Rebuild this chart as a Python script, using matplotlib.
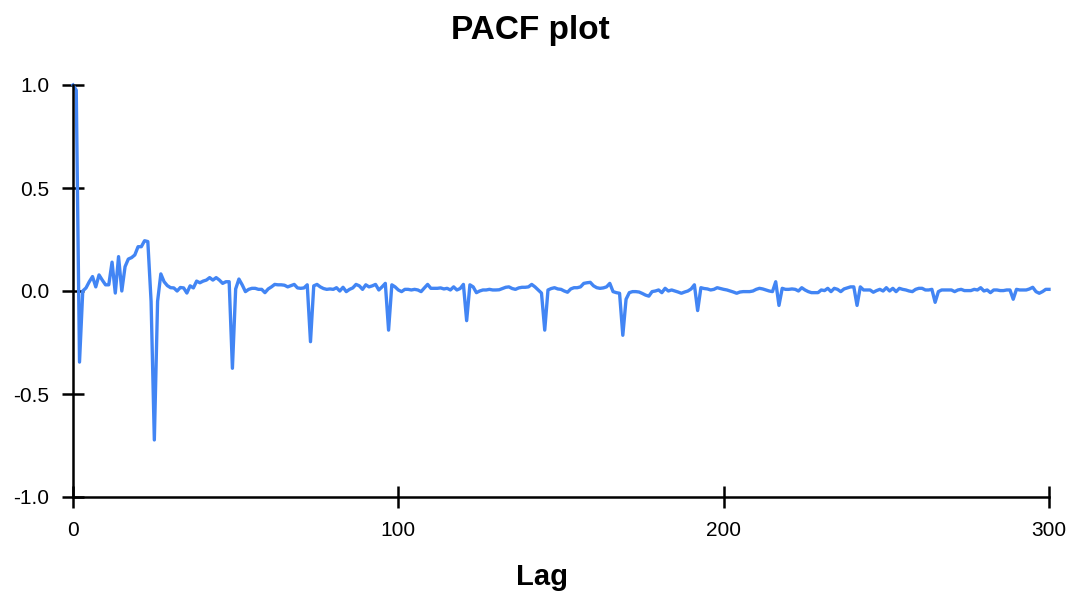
import numpy as np
import matplotlib
matplotlib.use("Agg")
import matplotlib.pyplot as plt

plt.rcParams['font.family'] = ['Liberation Sans', 'DejaVu Sans']

# PACF values for lags 0..300
pacf = [
    1.0, 0.975, -0.345, 0.0, 0.015, 0.045, 0.07, 0.02, 0.078, 0.053,
    0.03, 0.03, 0.14, -0.01, 0.167, 0.0, 0.118, 0.155, 0.162, 0.175,
    0.215, 0.215, 0.244, 0.24, -0.05, -0.723, -0.05, 0.083, 0.045, 0.026,
    0.016, 0.015, 0.0, 0.017, 0.015, -0.01, 0.025, 0.015, 0.048, 0.04,
    0.048, 0.053, 0.065, 0.053, 0.065, 0.053, 0.037, 0.045, 0.045, -0.375,
    0.01, 0.058, 0.03, -0.003, 0.008, 0.013, 0.013, 0.008, 0.008, -0.008,
    0.01, 0.02, 0.032, 0.03, 0.03, 0.028, 0.02, 0.026, 0.032, 0.015,
    0.013, 0.015, 0.03, -0.246, 0.025, 0.032, 0.02, 0.012, 0.008, 0.01,
    0.008, 0.016, 0.0, 0.018, -0.003, 0.008, 0.015, 0.032, 0.025, 0.008,
    0.03, 0.02, 0.025, 0.032, 0.005, 0.02, 0.037, -0.19, 0.03, 0.02,
    0.005, -0.003, 0.008, 0.008, 0.005, 0.008, 0.005, -0.003, 0.015, 0.032,
    0.013, 0.013, 0.013, 0.015, 0.01, 0.013, 0.005, 0.02, 0.005, 0.012,
    0.032, -0.144, 0.03, 0.02, -0.008, 0.0, 0.005, 0.005, 0.008, 0.005,
    0.005, 0.006, 0.012, 0.018, 0.02, 0.012, 0.008, 0.015, 0.018, 0.018,
    0.02, 0.032, 0.02, 0.005, -0.01, -0.19, 0.005, 0.012, 0.016, 0.01,
    0.008, 0.0, -0.006, 0.01, 0.016, 0.016, 0.02, 0.037, 0.04, 0.042,
    0.025, 0.016, 0.013, 0.015, 0.02, 0.037, -0.003, -0.008, -0.011, -0.215,
    -0.04, -0.008, -0.003, -0.003, -0.005, -0.012, -0.02, -0.025, -0.003, 0.0,
    0.005, -0.008, 0.013, 0.0, 0.005, 0.0, -0.005, -0.011, -0.005, 0.0,
    0.01, 0.03, -0.095, 0.016, 0.012, 0.01, 0.005, 0.008, 0.016, 0.012,
    0.008, 0.005, 0.0, -0.005, -0.011, -0.005, -0.003, -0.003, -0.003, 0.0,
    0.008, 0.013, 0.01, 0.005, 0.0, -0.003, 0.045, -0.07, 0.013, 0.008,
    0.008, 0.01, 0.008, 0.0, 0.016, 0.005, -0.003, -0.008, -0.008, -0.008,
    0.005, 0.002, 0.013, -0.003, 0.013, 0.008, -0.003, 0.01, 0.015, 0.02,
    0.02, -0.07, 0.02, 0.005, 0.005, 0.005, -0.006, 0.002, 0.008, 0.0,
    0.016, 0.0, 0.013, -0.003, 0.013, 0.008, 0.005, 0.0, -0.003, 0.008,
    0.013, 0.013, 0.005, 0.005, 0.008, -0.055, -0.003, 0.005, 0.005, 0.005,
    0.005, -0.003, 0.005, 0.008, 0.002, 0.002, 0.002, 0.008, 0.005, 0.016,
    0.0, 0.005, -0.008, 0.005, 0.005, 0.002, 0.002, 0.005, 0.005, -0.04,
    0.008, 0.005, 0.005, 0.005, 0.01, 0.018, -0.003, -0.011, -0.003, 0.008,
    0.008,
]
lags = np.arange(len(pacf))

x_ticks = [0, 100, 200, 300]
y_ticks = [-1.0, -0.5, 0.0, 0.5, 1.0]

fig = plt.figure(figsize=(10.73, 5.97), dpi=100)
ax = fig.add_axes([73 / 1073, 1 - 497 / 597, 976 / 1073, 412 / 597])

ax.plot(lags, pacf, color='#4285F4', linewidth=2.4, clip_on=False)

ax.set_xlim(0, 300)
ax.set_ylim(-1, 1)
ax.set_xticks(x_ticks)
ax.set_yticks(y_ticks)
ax.set_yticklabels([f"{v:.1f}" for v in y_ticks])

for s in ['top', 'right']:
    ax.spines[s].set_visible(False)
for s in ['left', 'bottom']:
    ax.spines[s].set_linewidth(1.8)

ax.tick_params(direction='inout', length=16, width=1.8, labelsize=15, pad=9)

ax.set_xlabel('Lag', fontsize=21, fontweight='bold')
ax.xaxis.set_label_coords((542 - 73) / 976, -0.16)

fig.text(530 / 1073, 1 - 39 / 597, 'PACF plot', fontsize=24, fontweight='bold',
         ha='center', va='baseline')

fig.savefig('out.png', dpi=100)
